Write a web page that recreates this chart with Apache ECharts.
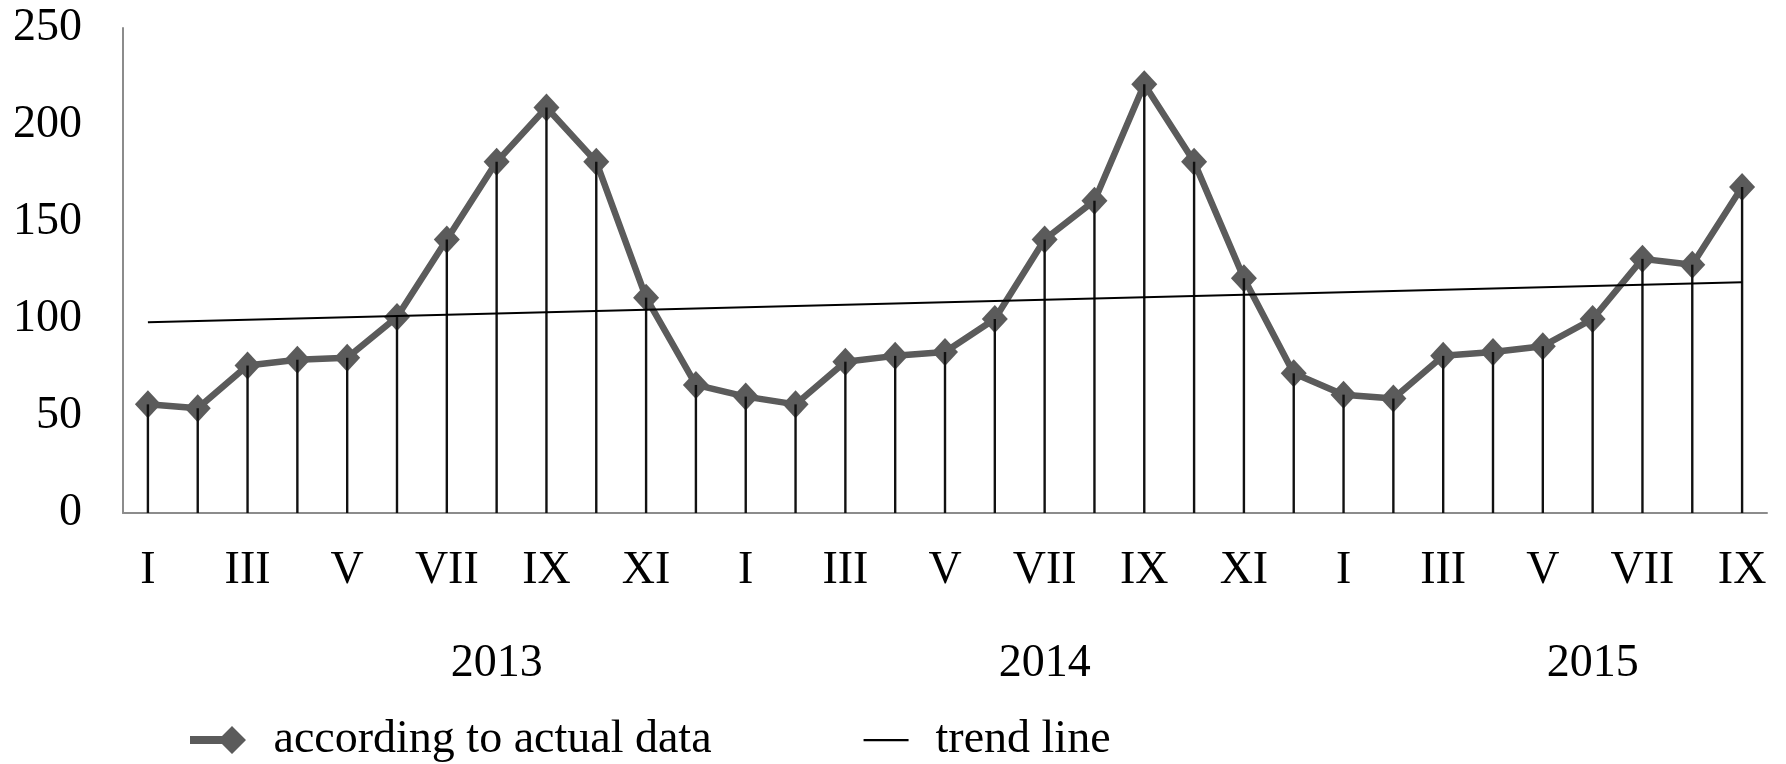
<!DOCTYPE html>
<html>
<head>
<meta charset="utf-8">
<script src="https://cdn.jsdelivr.net/npm/echarts@6/dist/echarts.min.js"></script>
<style>html,body{margin:0;padding:0;background:#fff;}#c{width:1786px;height:764px;}</style>
</head>
<body>
<div id="c"></div>
<script>
var monthLabels = ['I','II','III','IV','V','VI','VII','VIII','IX','X','XI','XII',
                   'I','II','III','IV','V','VI','VII','VIII','IX','X','XI','XII',
                   'I','II','III','IV','V','VI','VII','VIII','IX'];
var yearLabels = ['2013','2014','2015'];
var yearLabelIndex = [7, 18, 29];
var actualData = [56,54,76,79,80,101,141,181,209,181,111,66,
                  60,56,78,81,83,100,141,161,221,181,121,72,
                  61,59,81,83,86,100,131,128,168];
var trendStart = 98.3;
var trendEnd = 119;
var yTicks = {min: 0, max: 250, interval: 50};

var yearAxisData = monthLabels.map(function (m, i) {
  var k = yearLabelIndex.indexOf(i);
  return k >= 0 ? yearLabels[k] : '';
});

var FONT = 'Liberation Serif';
var GRAY = '#5b5b5b';
var actualIcon = 'path://M0,10 L32,10 L42,0 L56,14 L42,28 L32,18 L0,18 Z';
var trendIcon = 'path://M0,0 L0,0 Z M12,13 L57,13 L57,15.2 L12,15.2 Z M57,28 L57,28 Z';

var chart = echarts.init(document.getElementById('c'));
chart.setOption({
  animation: false,
  backgroundColor: '#ffffff',
  grid: {left: 123, right: 19, top: 28, bottom: 251, containLabel: false},
  legend: {
    left: 185, top: 712,
    itemWidth: 57, itemHeight: 28, itemGap: 140,
    data: [
      {name: 'according to actual data', icon: actualIcon, itemStyle: {color: GRAY, borderWidth: 0}},
      {name: 'trend line', icon: trendIcon, itemStyle: {color: '#000', borderWidth: 0}}
    ],
    textStyle: {fontFamily: FONT, fontSize: 46, color: '#000', padding: [0, 0, 0, 22]}
  },
  xAxis: [{
    type: 'category',
    data: monthLabels,
    boundaryGap: true,
    axisLine: {show: true, lineStyle: {color: '#8c8c8c', width: 2}},
    axisTick: {show: false},
    axisLabel: {interval: 1, margin: 35, fontFamily: FONT, fontSize: 46, color: '#000'},
    splitLine: {show: false}
  }, {
    type: 'category',
    data: yearAxisData,
    position: 'bottom',
    boundaryGap: true,
    axisLine: {show: false},
    axisTick: {show: false},
    axisLabel: {interval: 0, margin: 128, fontFamily: FONT, fontSize: 46, color: '#000'},
    splitLine: {show: false}
  }],
  yAxis: {
    type: 'value',
    min: yTicks.min, max: yTicks.max, interval: yTicks.interval,
    axisLine: {show: true, lineStyle: {color: '#8c8c8c', width: 2}},
    axisTick: {show: false},
    splitLine: {show: false},
    axisLabel: {margin: 41, fontFamily: FONT, fontSize: 46, color: '#000'}
  },
  series: [{
    name: 'according to actual data',
    type: 'line',
    data: actualData,
    z: 2,
    symbol: 'diamond',
    symbolSize: [26, 28],
    lineStyle: {color: GRAY, width: 6.5},
    itemStyle: {color: GRAY}
  }, {
    name: 'drop',
    type: 'bar',
    data: actualData,
    barWidth: 2.4,
    z: 3,
    itemStyle: {color: '#111'},
    silent: true
  }, {
    name: 'trend line',
    type: 'line',
    data: [[0, trendStart], [monthLabels.length - 1, trendEnd]],
    z: 4,
    symbol: 'none',
    lineStyle: {color: '#000', width: 2},
    itemStyle: {color: '#000'}
  }]
});
</script>
</body>
</html>
